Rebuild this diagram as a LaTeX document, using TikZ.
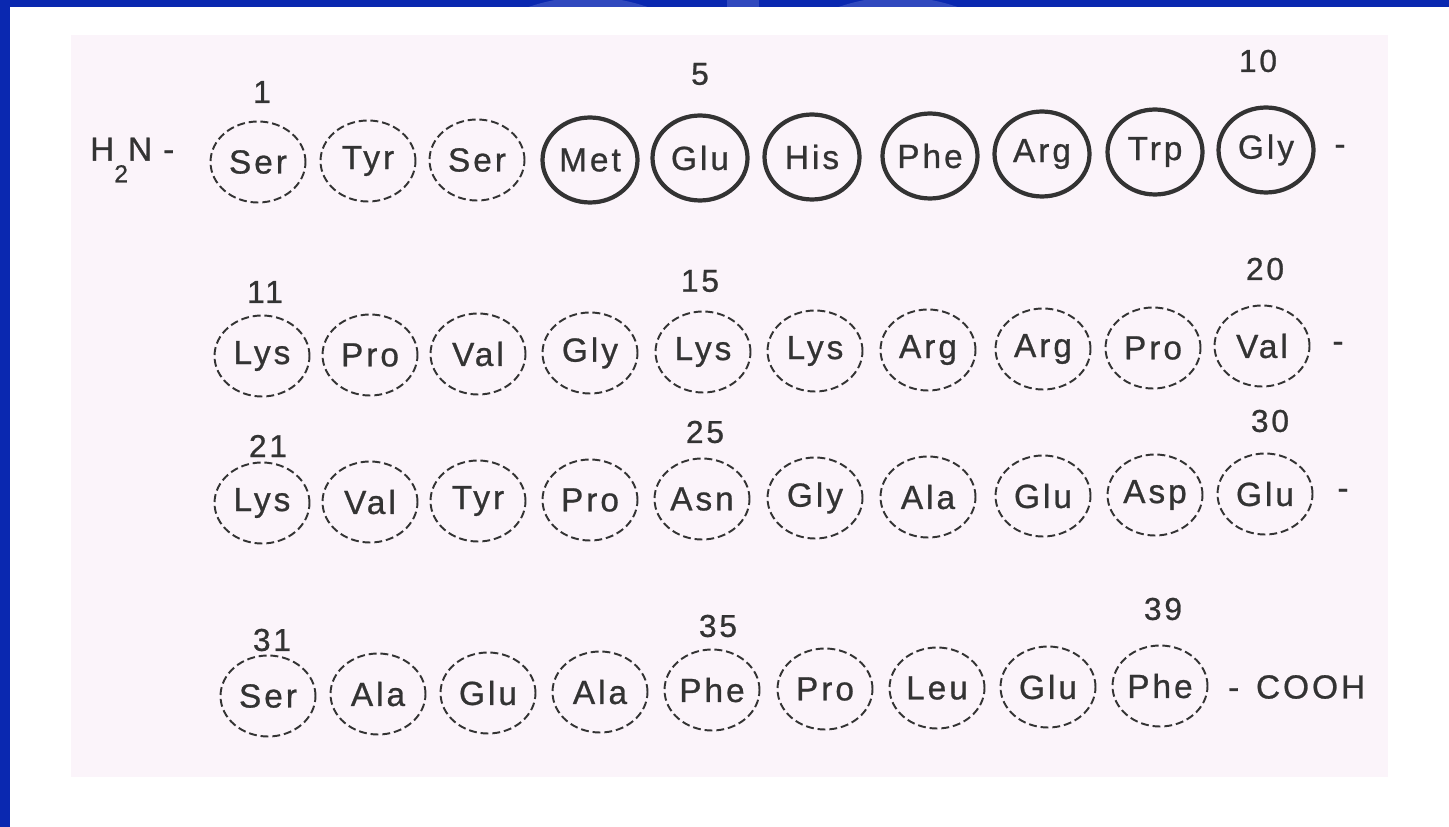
\documentclass[tikz,border=0pt]{standalone}
\usepackage{fontspec}
\setmainfont[LetterSpace=9,FakeBold=0.8]{Liberation Sans}
\usetikzlibrary{shapes.geometric}
\definecolor{slideblue}{HTML}{0A28B0}
\definecolor{slidearc}{HTML}{3049BE}
\definecolor{panelpink}{HTML}{FBF4FA}
\definecolor{ink}{HTML}{333333}
\begin{document}
\begin{tikzpicture}[x=0.02cm,y=-0.02cm,
  res/.style={ellipse, draw=ink, line width=1.1pt, dash pattern=on 4.5pt off 2.2pt,
    minimum width=1.9cm, minimum height=1.62cm, inner sep=0pt, text=ink,
    font=\fontsize{19}{19}\selectfont},
  core/.style={res, solid, line width=2.4pt, minimum height=1.7cm},
  num/.style={text=ink, font=\fontsize{18}{18}\selectfont},
  txt/.style={text=ink, font=\fontsize{19}{19}\selectfont}]
\useasboundingbox (0,0) rectangle (1449,827);
\fill[white] (0,0) rectangle (1449,827);
\begin{scope}
\clip (0,0) rectangle (1449,7);
\fill[slideblue] (0,0) rectangle (1449,7);
\fill[slidearc] (588,178) circle[radius=181];
\fill[slidearc] (898,178) circle[radius=181];
\fill[slidearc] (727,0) rectangle (759,7);
\end{scope}
\fill[slideblue] (0,0) rectangle (10,827);
\fill[panelpink] (71,35) rectangle (1388,777);

% residues 1-10
\node[res] (r1) at (258,162) {Ser};
\node[res] (r2) at (368,161) {Tyr};
\node[res] (r3) at (477,160) {Ser};
\node[core] (r4) at (590,160) {Met};
\node[core] (r5) at (700,158) {Glu};
\node[core] (r6) at (812,157) {His};
\node[core] (r7) at (930,156) {Phe};
\node[core] (r8) at (1042,154) {Arg};
\node[core] (r9) at (1155,152) {Trp};
\node[core] (r10) at (1266,150) {Gly};
\node[txt, anchor=west] (nterm) at (84,160) {H\raisebox{-0.65em}{\fontsize{14}{14}\selectfont 2}N\,\,-};
\node[txt] (e1) at (1340,150) {-};

% residues 11-20
\node[res] (r11) at (262,356) {Lys};
\node[res] (r12) at (370,355) {Pro};
\node[res] (r13) at (478,354) {Val};
\node[res] (r14) at (590,353) {Gly};
\node[res] (r15) at (703,352) {Lys};
\node[res] (r16) at (815,351) {Lys};
\node[res] (r17) at (928,350) {Arg};
\node[res] (r18) at (1043,349) {Arg};
\node[res] (r19) at (1153,348) {Pro};
\node[res] (r20) at (1262,346) {Val};
\node[txt] (e2) at (1338,347) {-};

% residues 21-30
\node[res] (r21) at (262,503) {Lys};
\node[res] (r22) at (370,502) {Val};
\node[res] (r23) at (478,501) {Tyr};
\node[res] (r24) at (590,500) {Pro};
\node[res] (r25) at (702,499) {Asn};
\node[res] (r26) at (815,498) {Gly};
\node[res] (r27) at (928,497) {Ala};
\node[res] (r28) at (1043,496) {Glu};
\node[res] (r29) at (1155,495) {Asp};
\node[res] (r30) at (1265,494) {Glu};
\node[txt] (e3) at (1343,494) {-};

% residues 31-39
\node[res] (r31) at (268,696) {Ser};
\node[res] (r32) at (378,694) {Ala};
\node[res] (r33) at (488,693) {Glu};
\node[res] (r34) at (600,692) {Ala};
\node[res] (r35) at (712,690) {Phe};
\node[res] (r36) at (825,689) {Pro};
\node[res] (r37) at (937,688) {Leu};
\node[res] (r38) at (1048,687) {Glu};
\node[res] (r39) at (1160,686) {Phe};
\node[txt, anchor=west] (cterm) at (1222,687) {-\enspace COOH};

% position numbers
\node[num] (n1) at (262,92) {1};
\node[num] (n5) at (700,74) {5};
\node[num] (n10) at (1258,61) {10};
\node[num] (n11) at (265,292) {11};
\node[num] (n15) at (700,281) {15};
\node[num] (n20) at (1265,269) {20};
\node[num] (n21) at (268,446) {21};
\node[num] (n25) at (705,432) {25};
\node[num] (n30) at (1270,421) {30};
\node[num] (n31) at (272,640) {31};
\node[num] (n35) at (718,626) {35};
\node[num] (n39) at (1163,609) {39};
\end{tikzpicture}
\end{document}
